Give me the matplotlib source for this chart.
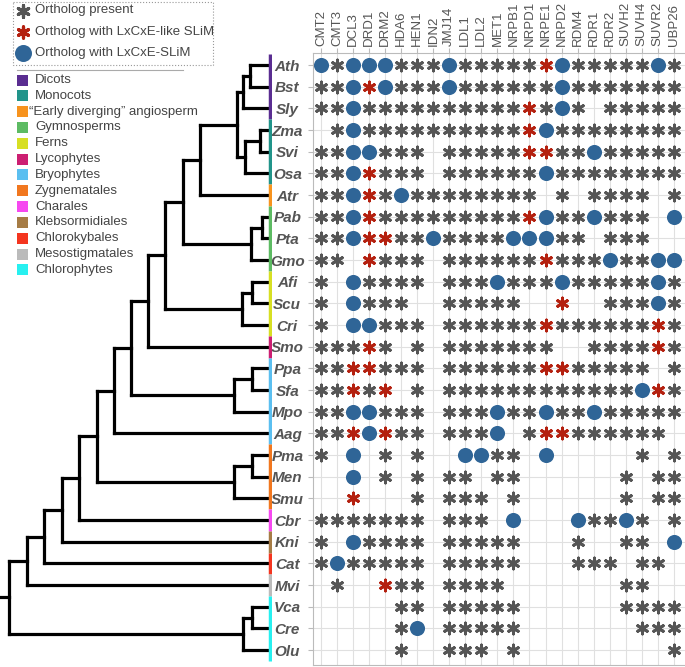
import re

import matplotlib
matplotlib.use("Agg")
import matplotlib.pyplot as plt
from matplotlib.markers import MarkerStyle
from matplotlib.patches import Rectangle

plt.rcParams["font.family"] = ["Liberation Sans", "DejaVu Sans"]

GENES = ["CMT2", "CMT3", "DCL3", "DRD1", "DRM2", "HDA6", "HEN1", "IDN2", "JMJ14",
         "LDL1", "LDL2", "MET1", "NRPB1", "NRPD1", "NRPE1", "NRPD2", "RDM4",
         "RDR1", "RDR2", "SUVH2", "SUVH4", "SUVR2", "UBP26"]

SPECIES = ["Ath", "Bst", "Sly", "Zma", "Svi", "Osa", "Atr", "Pab", "Pta", "Gmo",
           "Afi", "Scu", "Cri", "Smo", "Ppa", "Sfa", "Mpo", "Aag", "Pma", "Men",
           "Smu", "Cbr", "Kni", "Cat", "Mvi", "Vca", "Cre", "Olu"]

# one string per species, one char per gene:
# '*' ortholog present, 'r' LxCxE-like SLiM, 'o' LxCxE-SLiM, '.' no ortholog
CALLS = [
    "o*ooo***o*****ro*****o*",  # Ath
    "**oro***o******o*******",  # Bst
    "**o**********r*o*.*****",  # Sly
    ".*o**********ro********",  # Zma
    "**oo***.*****rr**o*****",  # Svi
    "**or***.******o********",  # Osa
    "**or*o********.*.****.*",  # Atr
    "**or*********ro**o***.o",  # Pab
    "**orr**o****ooo**.***..",  # Pta
    "**.r***.******r***o**oo",  # Gmo
    "*.o****.***o***o*****o*",  # Afi
    "*.o***..*****..r..***o*",  # Scu
    "*.oo***.******r******r*",  # Cri
    "***r*.*.*******..****r*",  # Smo
    "**rr***.******rr*****.*",  # Ppa
    "**r*r.*.************or*",  # Sfa
    "**oo***.***o**o**o*****",  # Mpo
    "**ror**.***o.*rr******.",  # Aag
    "*.o.*.*..oo**.o.....*.*",  # Pma
    "..o.*.*.**.**......*.**",  # Men
    "..r...*.***.*......*.**",  # Smu
    "*******.***.o...o**o*.*",  # Cbr
    "*.o****.*****...*..**.o",  # Kni
    "*o*****.*****...***.**.",  # Cat
    ".*..r**.****.......**..",  # Mvi
    ".....**.*****......****",  # Vca
    ".....*o.*****.......***",  # Cre
    ".....*..***.*.........*",  # Olu
]

GROUPS = ["Dicots", "Monocots", "\u201cEarly diverging\u201d angiosperm", "Gymnosperms",
          "Ferns", "Lycophytes", "Bryophytes", "Zygnematales", "Charales",
          "Klebsormidiales", "Chlorokybales", "Mesostigmatales", "Chlorophytes"]
GROUP_COLORS = ["#5a2d91", "#21948a", "#f7931e", "#5dbb63", "#d7df23", "#cc1f72",
                "#5bbff0", "#f1771f", "#f648f0", "#a67c45", "#f4351f", "#bbbbbb",
                "#27f0f0"]
GROUP_MEMBERS = [["Ath", "Bst", "Sly"], ["Zma", "Svi", "Osa"], ["Atr"],
                 ["Pab", "Pta", "Gmo"], ["Afi", "Scu", "Cri"], ["Smo"],
                 ["Ppa", "Sfa", "Mpo", "Aag"], ["Pma", "Men", "Smu"], ["Cbr"],
                 ["Kni"], ["Cat"], ["Mvi"], ["Vca", "Cre", "Olu"]]

# cladogram, internal node labels are node depths (leaves sit at LEAF_DEPTH)
TREE = ("(((((((((((((((Ath,Bst)250,Sly)243,((Zma,Svi)260,Osa)245)237,Atr)200,"
        "((Pab,Pta)262,Gmo)251)183,((Afi,Scu)252,Cri)242)165,Smo)148,"
        "((Ppa,Sfa)252,Mpo)234)131,Aag)114,((Pma,Men)252,Smu)234)97,Cbr)79,"
        "Kni)62,Cat)44,Mvi)27,((Vca,Cre)252,Olu)243)9")
LEAF_DEPTH = 270

LEGEND_LABELS = ["Ortholog present", "Ortholog with LxCxE-like SLiM",
                 "Ortholog with LxCxE-SLiM"]

GRAY = "#555555"
RED = "#b4200f"
BLUE = "#2f6597"
TEXT = "#555555"

W, H = 685, 667


def parse_newick(s):
    pos = 0

    def node():
        nonlocal pos
        if s[pos] == "(":
            pos += 1
            kids = [node()]
            while s[pos] == ",":
                pos += 1
                kids.append(node())
            pos += 1
            m = re.match(r"[\d.]+", s[pos:])
            pos += m.end()
            return (float(m.group()), kids)
        m = re.match(r"[A-Za-z]+", s[pos:])
        pos += m.end()
        return m.group()

    return node()


def draw_clade(ax, clade, rows):
    if isinstance(clade, str):
        return LEAF_DEPTH, rows[clade]
    depth, kids = clade
    pts = [draw_clade(ax, k, rows) for k in kids]
    ys = [p[1] for p in pts]
    kw = dict(color="black", lw=2.3, solid_capstyle="projecting")
    ax.plot([depth, depth], [min(ys), max(ys)], **kw)
    for x, y in pts:
        ax.plot([depth, x], [y, y], **kw)
    return depth, (min(ys) + max(ys)) / 2


star = MarkerStyle((6, 2, 0), capstyle="round")

fig = plt.figure(figsize=(W / 100, H / 100), dpi=100)
bottom = 2 / H
height = (665 - 53) / H
ylim = (27.69, -0.554)

# ---- presence grid ----
ax = fig.add_axes([313 / W, bottom, 1 - 313 / W, height])
ax.set_xlim(-0.5, 22.7)
ax.set_ylim(*ylim)
for code, kw in [("*", dict(marker=star, color=GRAY, s=62, linewidths=2.1)),
                 ("r", dict(marker=star, color=RED, s=62, linewidths=2.1)),
                 ("o", dict(marker="o", color=BLUE, s=118, linewidths=0))]:
    xs, ys = [], []
    for i, row in enumerate(CALLS):
        for j, c in enumerate(row):
            if c == code:
                xs.append(j)
                ys.append(i)
    ax.scatter(xs, ys, zorder=3, **kw)

ax.xaxis.tick_top()
ax.set_xticks(range(len(GENES)))
ax.set_xticklabels(GENES, rotation=90, fontsize=9.5, color=TEXT)
ax.set_yticks(range(len(SPECIES)))
ax.set_yticklabels(SPECIES, fontsize=11, fontweight="bold", fontstyle="italic",
                   color=TEXT, ha="center")
ax.tick_params(axis="y", length=3.5, color="#bbbbbb", pad=15)
ax.tick_params(axis="x", length=3.5, color="#bbbbbb", pad=1.5)
ax.grid(True, color="#e0e0e0", lw=0.8)
ax.set_axisbelow(True)
for side in ["left", "top", "bottom"]:
    ax.spines[side].set_color("#bbbbbb")
    ax.spines[side].set_linewidth(0.8)
ax.spines["right"].set_visible(False)

# ---- cladogram ----
tax = fig.add_axes([0, bottom, 272 / W, height])
tax.set_xlim(0, 272)
tax.set_ylim(*ylim)
tax.axis("off")
rows = {sp: i for i, sp in enumerate(SPECIES)}
root_x, root_y = draw_clade(tax, parse_newick(TREE), rows)
tax.plot([0, root_x], [root_y, root_y], color="black", lw=2.3,
         solid_capstyle="projecting")
for members, col in zip(GROUP_MEMBERS, GROUP_COLORS):
    idx = [rows[m] for m in members]
    tax.plot([LEAF_DEPTH, LEAF_DEPTH], [min(idx) - 0.5, max(idx) + 0.5],
             color=col, lw=2.5, solid_capstyle="butt", zorder=4)

# ---- legends ----
lax = fig.add_axes([0, 0, 1, 1])
lax.set_xlim(0, W)
lax.set_ylim(H, 0)
lax.axis("off")
lax.add_patch(Rectangle((13, 2), 200, 63, fill=False, ec="#999999", lw=0.8, ls=":"))
legend_marks = [dict(marker=star, color=GRAY, s=72, linewidths=2.3),
                dict(marker=star, color=RED, s=66, linewidths=2.3),
                dict(marker="o", color=BLUE, s=150, linewidths=0)]
for k, (lab, mk) in enumerate(zip(LEGEND_LABELS, legend_marks)):
    y = 10.5 + 21.3 * k
    lax.scatter([23], [y], **mk)
    lax.text(35, y, lab, fontsize=9.5, color="#444444", va="center")
lax.plot([17, 183], [70, 70], color="#aaaaaa", lw=0.8)
for k, (lab, col) in enumerate(zip(GROUPS, GROUP_COLORS)):
    y = 80 + 15.83 * k
    lax.add_patch(Rectangle((17, y - 5.5), 11, 11, color=col, lw=0))
    x = 29 if lab.startswith("\u201c") else 35
    lax.text(x, y, lab, fontsize=9.5, color="#444444", va="center")

fig.savefig("out.png", dpi=100)
